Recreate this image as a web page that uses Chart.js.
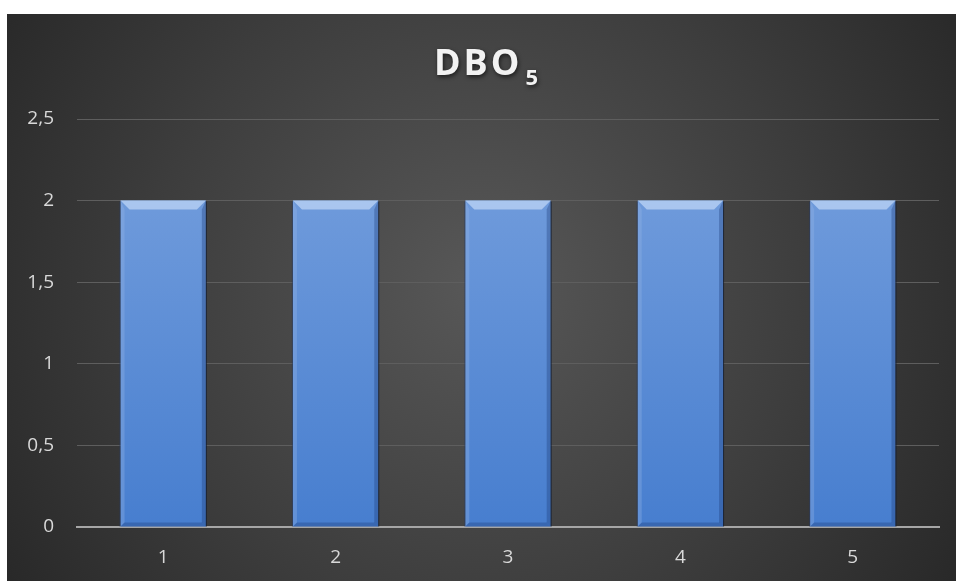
<!DOCTYPE html>
<html>
<head>
<meta charset="utf-8">
<script src="https://cdn.jsdelivr.net/npm/chart.js@4"></script>
<style>
  html, body { margin: 0; padding: 0; background: #ffffff; }
  #wrap { position: absolute; left: 7px; top: 14px; width: 949px; height: 567px; }
  canvas { display: block; }
</style>
</head>
<body>
<div id="wrap"><canvas id="c" width="949" height="567"></canvas></div>
<script>
const categories = ['1', '2', '3', '4', '5'];
const dboValues = [2, 2, 2, 2, 2];
const yTickValues = [0, 0.5, 1, 1.5, 2, 2.5];
const titleMain = 'DBO';
const titleSub = '5';

const FONT = '"Open Sans", "DejaVu Sans", sans-serif';

const bgPlugin = {
  id: 'bg',
  beforeDraw(chart) {
    const { ctx, width, height } = chart;
    ctx.save();
    const g = ctx.createRadialGradient(width * 0.5, height * 0.48, 10, width * 0.5, height * 0.48, width * 0.62);
    g.addColorStop(0, '#575757');
    g.addColorStop(0.55, '#3d3d3d');
    g.addColorStop(1, '#262626');
    ctx.fillStyle = g;
    ctx.fillRect(0, 0, width, height);
    ctx.restore();
  }
};

function spacedWidth(ctx, s, sp) {
  let w = 0;
  for (const ch of s) w += ctx.measureText(ch).width + sp;
  return w;
}
function drawSpaced(ctx, s, x, y, sp) {
  for (const ch of s) { ctx.fillText(ch, x, y); x += ctx.measureText(ch).width + sp; }
  return x;
}

const titlePlugin = {
  id: 'subTitle',
  afterDraw(chart) {
    const { ctx } = chart;
    ctx.save();
    ctx.fillStyle = '#f2f2f2';
    ctx.shadowColor = 'rgba(0,0,0,0.6)';
    ctx.shadowBlur = 4;
    ctx.shadowOffsetX = 1;
    ctx.shadowOffsetY = 2;
    ctx.textBaseline = 'alphabetic';
    ctx.textAlign = 'left';
    const big = 'bold 36px ' + FONT, small = 'bold 22px ' + FONT;
    ctx.font = big;
    const w1 = spacedWidth(ctx, titleMain, 3);
    ctx.font = small;
    const w2 = ctx.measureText(titleSub).width;
    const total = w1 + 3 + w2;
    const x0 = 486 - 7 - total / 2;
    const y0 = 75 - 14;
    ctx.font = big;
    const xe = drawSpaced(ctx, titleMain, x0, y0, 3);
    ctx.font = small;
    ctx.fillText(titleSub, xe + 3, y0 + 10);
    ctx.restore();
  }
};

const bevelPlugin = {
  id: 'bevel',
  afterDatasetsDraw(chart) {
    const { ctx } = chart;
    const meta = chart.getDatasetMeta(0);
    ctx.save();
    meta.data.forEach(bar => {
      const p = bar.getProps(['x', 'y', 'base', 'width'], true);
      const l = p.x - p.width / 2, r = p.x + p.width / 2, t = p.y, b = p.base;
      const bv = 9, sv = 4;
      ctx.fillStyle = 'rgba(190,212,245,0.75)';
      ctx.beginPath();
      ctx.moveTo(l, t); ctx.lineTo(r, t); ctx.lineTo(r - bv, t + bv); ctx.lineTo(l + bv, t + bv); ctx.closePath(); ctx.fill();
      ctx.fillStyle = 'rgba(150,180,230,0.35)';
      ctx.beginPath();
      ctx.moveTo(l, t); ctx.lineTo(l + sv, t + bv); ctx.lineTo(l + sv, b - sv); ctx.lineTo(l, b); ctx.closePath(); ctx.fill();
      ctx.fillStyle = 'rgba(30,60,120,0.35)';
      ctx.beginPath();
      ctx.moveTo(r, t); ctx.lineTo(r - sv, t + bv); ctx.lineTo(r - sv, b - sv); ctx.lineTo(r, b); ctx.closePath(); ctx.fill();
      ctx.beginPath();
      ctx.moveTo(l, b); ctx.lineTo(l + sv, b - sv); ctx.lineTo(r - sv, b - sv); ctx.lineTo(r, b); ctx.closePath(); ctx.fill();
      ctx.strokeStyle = 'rgba(20,30,50,0.8)';
      ctx.lineWidth = 1;
      ctx.beginPath();
      ctx.moveTo(r + 0.5, t + 1); ctx.lineTo(r + 0.5, b);
      ctx.stroke();
      ctx.strokeStyle = 'rgba(40,60,100,0.6)';
      ctx.beginPath();
      ctx.moveTo(l - 0.5, t + 1); ctx.lineTo(l - 0.5, b);
      ctx.stroke();
    });
    ctx.restore();
  }
};

const ctx = document.getElementById('c').getContext('2d');
new Chart(ctx, {
  type: 'bar',
  data: {
    labels: categories,
    datasets: [{
      label: 'DBO5',
      data: dboValues,
      backgroundColor: (c) => {
        const area = c.chart.chartArea;
        if (!area) return '#5b8bd6';
        const g = c.chart.ctx.createLinearGradient(0, area.top, 0, area.bottom);
        g.addColorStop(0, '#78a1de');
        g.addColorStop(1, '#477ecf');
        return g;
      },
      borderWidth: 0,
      categoryPercentage: 1,
      barPercentage: 0.495
    }]
  },
  options: {
    responsive: false,
    animation: false,
    events: [],
    layout: { padding: { left: 0, right: 17, top: 105, bottom: 0 } },
    plugins: {
      legend: { display: false },
      title: { display: false },
      tooltip: { enabled: false }
    },
    scales: {
      x: {
        grid: { display: false, drawTicks: false },
        border: { display: true, color: '#a6a6a6', width: 2 },
        ticks: { color: '#d9d9d9', font: { size: 19, family: FONT }, padding: 19 },
        afterFit(scale) { scale.height = 54; }
      },
      y: {
        min: 0,
        max: 2.5,
        afterBuildTicks(scale) { scale.ticks = yTickValues.map(v => ({ value: v })); },
        grid: { color: '#5e5e5e', lineWidth: 1, drawTicks: false },
        border: { display: false },
        ticks: {
          color: '#d9d9d9',
          padding: 23,
          font: { size: 19, family: FONT },
          callback: (v) => String(v).replace('.', ',')
        },
        afterFit(scale) { scale.width = 70; }
      }
    }
  },
  plugins: [bgPlugin, bevelPlugin, titlePlugin]
});
</script>
</body>
</html>
